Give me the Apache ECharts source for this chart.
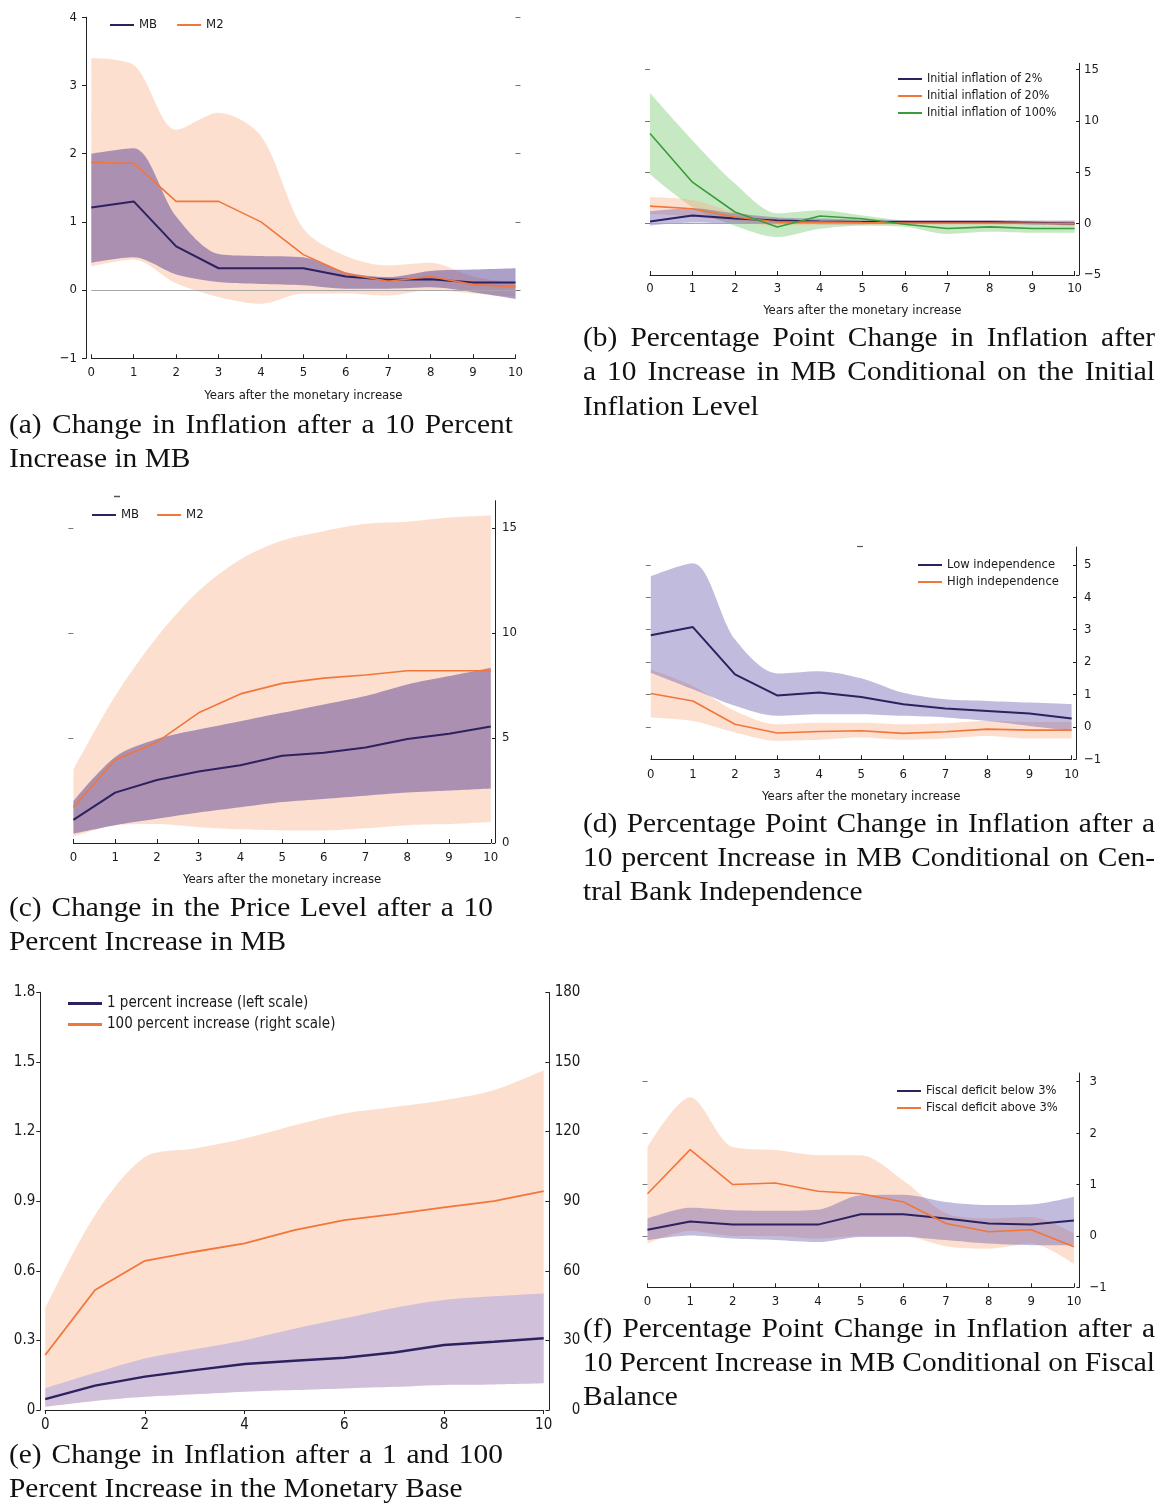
<!DOCTYPE html>
<html><head><meta charset="utf-8">
<script src="https://cdn.jsdelivr.net/npm/echarts@6/dist/echarts.min.js"></script>
<style>html,body{margin:0;padding:0;background:#fff}#c{width:1164px;height:1505px}</style>
</head><body><div id="c"></div>
<script>
// ---------- data ----------
const years = ['0','1','2','3','4','5','6','7','8','9','10'];

// (a) change in inflation after a 10% increase
const aMB   = [1.21, 1.30, 0.64, 0.32, 0.32, 0.32, 0.20, 0.15, 0.16, 0.11, 0.11];
const aMBLo = [0.40, 0.48, 0.23, 0.12, 0.09, 0.07, 0.02, 0.02, 0.04, -0.03, -0.13];
const aMBHi = [2.00, 2.08, 1.08, 0.53, 0.50, 0.48, 0.26, 0.19, 0.28, 0.30, 0.32];
const aM2   = [1.87, 1.86, 1.30, 1.30, 1.00, 0.52, 0.24, 0.13, 0.20, 0.08, 0.05];
const aM2Lo = [0.35, 0.45, 0.10, -0.10, -0.20, -0.05, -0.05, -0.08, 0.00, -0.05, -0.10];
const aM2Hi = [3.40, 3.30, 2.35, 2.60, 2.26, 0.90, 0.50, 0.36, 0.40, 0.20, 0.10];
const aTicks = [-1, 0, 1, 2, 3, 4];

// (b) conditional on initial inflation
const b2   = [0.20, 0.80, 0.50, 0.30, 0.20, 0.15, 0.15, 0.15, 0.15, 0.08, 0.00];
const b2Lo = [-0.20, 0.10, 0.00, 0.00, -0.05, -0.05, 0.00, 0.00, 0.00, -0.10, -0.15];
const b2Hi = [1.20, 1.50, 1.00, 0.60, 0.50, 0.40, 0.35, 0.35, 0.35, 0.30, 0.30];
const b20   = [1.70, 1.45, 0.65, 0.15, 0.15, 0.10, 0.06, 0.06, 0.06, 0.03, 0.00];
const b20Lo = [0.90, 0.70, 0.20, -0.20, -0.10, -0.10, -0.10, -0.10, -0.10, -0.10, -0.20];
const b20Hi = [2.60, 2.30, 1.10, 0.50, 0.40, 0.30, 0.30, 0.30, 0.30, 0.25, 0.25];
const b100   = [8.77, 4.03, 1.13, -0.32, 0.74, 0.48, -0.06, -0.48, -0.32, -0.48, -0.48];
const b100Lo = [4.80, 1.60, -0.20, -1.30, -0.50, -0.20, -0.30, -1.00, -0.80, -0.90, -0.90];
const b100Hi = [12.70, 8.10, 3.90, 1.00, 1.30, 0.80, 0.30, 0.05, 0.15, 0.10, 0.00];
const bTicks = [-5, 0, 5, 10, 15];
const bTop = 15.6;

// (c) change in the price level
const cMB   = [1.10, 2.40, 3.00, 3.40, 3.70, 4.15, 4.30, 4.55, 4.95, 5.20, 5.55];
const cMBLo = [0.45, 0.85, 1.15, 1.45, 1.70, 1.95, 2.10, 2.25, 2.40, 2.50, 2.60];
const cMBHi = [2.00, 4.10, 4.95, 5.40, 5.80, 6.20, 6.60, 7.00, 7.55, 7.95, 8.35];
const cM2   = [1.70, 3.95, 4.80, 6.20, 7.10, 7.60, 7.85, 8.00, 8.20, 8.20, 8.20];
const cM2Lo = [0.30, 0.85, 0.90, 0.75, 0.65, 0.60, 0.60, 0.70, 0.85, 0.90, 1.00];
const cM2Hi = [3.50, 7.00, 9.80, 12.00, 13.50, 14.40, 14.85, 15.20, 15.30, 15.50, 15.60];
const cTicks = [0, 5, 10, 15];
const cTop = 16.3;

// (d) central bank independence
const dLow   = [2.83, 3.08, 1.62, 0.97, 1.06, 0.92, 0.70, 0.57, 0.49, 0.41, 0.26];
const dLowLo = [1.67, 1.16, 0.65, 0.34, 0.39, 0.39, 0.34, 0.29, 0.18, 0.03, -0.12];
const dLowHi = [4.65, 5.05, 2.70, 1.65, 1.72, 1.50, 1.05, 0.85, 0.80, 0.75, 0.70];
const dHigh   = [1.03, 0.80, 0.08, -0.19, -0.14, -0.12, -0.20, -0.15, -0.07, -0.10, -0.10];
const dHighLo = [0.29, 0.18, -0.17, -0.43, -0.40, -0.33, -0.40, -0.36, -0.28, -0.36, -0.36];
const dHighHi = [1.77, 1.26, 0.49, 0.08, 0.13, 0.13, 0.08, 0.11, 0.18, 0.15, 0.15];
const dTicks = [-1, 0, 1, 2, 3, 4, 5];
const dTop = 5.55;

// (e) 1 and 100 percent increase
const e1   = [0.047, 0.105, 0.144, 0.172, 0.198, 0.212, 0.225, 0.248, 0.280, 0.294, 0.309];
const e1Lo = [0.014, 0.039, 0.057, 0.068, 0.079, 0.086, 0.093, 0.100, 0.108, 0.110, 0.115];
const e1Hi = [0.093, 0.160, 0.222, 0.262, 0.301, 0.350, 0.395, 0.440, 0.474, 0.490, 0.502];
const e100   = [23.7, 51.7, 64.3, 68.2, 71.8, 77.5, 81.8, 84.4, 87.3, 90.0, 94.3];
const e100Lo = [1.4, 3.9, 5.7, 6.8, 7.9, 8.6, 9.3, 10.0, 10.8, 11.0, 11.5];
const e100Hi = [43.8, 84.0, 109.0, 112.7, 117.0, 122.7, 127.8, 130.6, 133.5, 137.8, 146.4];
const eLeftTicks = [0, 0.3, 0.6, 0.9, 1.2, 1.5, 1.8];
const eRightTicks = [0, 30, 60, 90, 120, 150, 180];

// (f) fiscal balance
const fBelow   = [0.12, 0.28, 0.22, 0.22, 0.22, 0.42, 0.42, 0.34, 0.24, 0.22, 0.30];
const fBelowLo = [-0.08, 0.01, -0.05, -0.08, -0.12, -0.02, -0.02, -0.08, -0.15, -0.18, -0.18];
const fBelowHi = [0.34, 0.55, 0.50, 0.49, 0.51, 0.79, 0.80, 0.66, 0.60, 0.61, 0.76];
const fAbove   = [0.82, 1.68, 1.00, 1.03, 0.87, 0.82, 0.66, 0.24, 0.08, 0.12, -0.21];
const fAboveLo = [-0.15, 0.10, 0.00, 0.00, -0.05, 0.00, 0.00, -0.20, -0.25, -0.15, -0.55];
const fAboveHi = [1.73, 2.70, 1.73, 1.67, 1.57, 1.57, 1.08, 0.44, 0.34, 0.37, 0.05];
const fTicks = [-1, 0, 1, 2, 3];
const fTop = 3.17;

const xName = 'Years after the monetary increase';

// ---------- styles ----------
const SANS = "'DejaVu Sans Condensed','Liberation Sans Narrow','Arial Narrow',sans-serif";
const SERIF = "'Liberation Serif','Times New Roman',serif";
const TXT = '#1a1a1a', AXC = '#222';
const NAVY = '#2d2160', ORANGE = '#f2763a', GREEN = '#3a9c3a';
const PEACH = 'rgba(247,175,135,0.40)';
const LAV = 'rgba(95,70,150,0.52)';
const LAV_L = 'rgba(100,85,170,0.40)';
const LAV_E = 'rgba(120,130,240,0.33)';
const GREENB = 'rgba(120,200,110,0.42)';
const minus = v => String(v).replace('-', '\u2212');
const FS = 13;

function xAx(gi, o) {
  o = o || {};
  return {
    type: 'category', gridIndex: gi, data: years, boundaryGap: false,
    axisLine: {show: true, onZero: false, lineStyle: {color: AXC, width: 1}},
    axisTick: {show: true, inside: o.tickInside !== false, length: 4, interval: o.every || 0, lineStyle: {color: AXC}},
    axisLabel: {interval: o.every || 0, margin: o.margin || 8, fontFamily: SANS, fontSize: o.fs || FS, color: TXT},
    name: o.name || '', nameLocation: 'middle', nameGap: o.nameGap || 30,
    nameTextStyle: {fontFamily: SANS, fontSize: FS, color: TXT},
    splitLine: {show: false}
  };
}
function yAx(gi, ticks, top, pos, offset, o) {
  return {
    type: 'value', gridIndex: gi, position: pos, offset: offset,
    min: ticks[0], max: top,
    splitLine: {show: false},
    axisLine: {show: true, onZero: false, lineStyle: {color: AXC, width: 1}},
    axisTick: {show: true, inside: !!o.tickInside, length: o.tickLen || 3, lineStyle: {color: AXC}, customValues: ticks},
    axisLabel: {show: true, customValues: ticks, margin: o.margin, align: o.align, fontFamily: SANS, fontSize: o.fs || FS, color: TXT, formatter: minus}
  };
}
function decoAx(gi, ticks, lo, top, pos) {
  return {
    type: 'value', gridIndex: gi, position: pos, offset: 0, min: lo, max: top,
    splitLine: {show: false}, axisLine: {show: false}, axisLabel: {show: false},
    axisTick: {show: true, inside: false, length: 5, lineStyle: {color: '#777'}, customValues: ticks}
  };
}
function line(name, gi, yi, data, color, w, extra) {
  return Object.assign({
    type: 'line', name: name, xAxisIndex: gi, yAxisIndex: yi, data: data, color: color,
    symbol: 'none', lineStyle: {color: color, width: w}, z: 5, silent: true, emphasis: {disabled: true}
  }, extra || {});
}
function band(id, gi, yi, lo, hi, fill) {
  const diff = hi.map((h, i) => +(h - lo[i]).toFixed(5));
  const common = {type: 'line', xAxisIndex: gi, yAxisIndex: yi, stack: id, stackStrategy: 'all',
    symbol: 'none', silent: true, emphasis: {disabled: true}, smooth: 0.3, z: 2};
  return [
    Object.assign({}, common, {name: id + ' lo', data: lo, lineStyle: {width: 0, opacity: 0}}),
    Object.assign({}, common, {name: id + ' hi', data: diff, lineStyle: {width: 0, opacity: 0},
      areaStyle: {color: fill, opacity: 1}})
  ];
}
const zeroLine = {silent: true, symbol: ['none', 'none'], label: {show: false}, animation: false,
  lineStyle: {color: '#a8a8a8', width: 1, type: 'solid'}, data: [{yAxis: 0}]};

function legend(names, left, top, o) {
  return {
    data: names, left: left, top: top, orient: o.orient || 'vertical', icon: 'rect',
    itemWidth: o.w || 24, itemHeight: o.h || 2, itemGap: o.gap || 4, selectedMode: false, padding: 0,
    textStyle: {fontFamily: SANS, fontSize: o.fs || 12.4, lineHeight: o.lh || 13, color: TXT}
  };
}

// ---------- captions (graphic text, justified lines) ----------
const CAP_FS = 27, CAP_SX = 1.09;
const captions = [
  ['(a) Change in Inflation after a 10 Percent', 9, 426, 513],
  ['Increase in MB', 9, 460, 0],
  ['(b) Percentage Point Change in Inflation after', 583, 339, 1155],
  ['a 10 Increase in MB Conditional on the Initial', 583, 373, 1155],
  ['Inflation Level', 583, 408, 0],
  ['(c) Change in the Price Level after a 10', 9, 909, 493],
  ['Percent Increase in MB', 9, 943, 0],
  ['(d) Percentage Point Change in Inflation after a', 583, 825, 1155],
  ['10 percent Increase in MB Conditional on Cen-', 583, 859, 1155],
  ['tral Bank Independence', 583, 893, 0],
  ['(e) Change in Inflation after a 1 and 100', 9, 1456, 503],
  ['Percent Increase in the Monetary Base', 9, 1490, 0],
  ['(f) Percentage Point Change in Inflation after a', 583, 1330, 1155],
  ['10 Percent Increase in MB Conditional on Fiscal', 583, 1364, 1155],
  ['Balance', 583, 1398, 0]
];
const meas = document.createElement('canvas').getContext('2d');
meas.font = CAP_FS + 'px ' + SERIF;
const graphics = [];
captions.forEach(([t, x0, yc, x1]) => {
  const st = {fill: '#111', fontSize: CAP_FS, fontFamily: SERIF, verticalAlign: 'middle', align: 'left'};
  if (!x1) {
    graphics.push({type: 'text', x: x0, y: yc, scaleX: CAP_SX, silent: true, style: Object.assign({text: t}, st)});
    return;
  }
  const words = t.split(' ');
  const ws = words.map(w => meas.measureText(w).width * CAP_SX);
  const gap = (x1 - x0 - ws.reduce((a, b) => a + b, 0)) / (words.length - 1);
  let x = x0;
  words.forEach((w, i) => {
    graphics.push({type: 'text', x: x, y: yc, scaleX: CAP_SX, silent: true, style: Object.assign({text: w}, st)});
    x += ws[i] + gap;
  });
});
// small stray tick marks present in the original figure
graphics.push({type: 'line', silent: true, shape: {x1: 114, y1: 496.5, x2: 120, y2: 496.5}, style: {stroke: '#555', lineWidth: 1.5}});
graphics.push({type: 'line', silent: true, shape: {x1: 857, y1: 546.5, x2: 863, y2: 546.5}, style: {stroke: '#555', lineWidth: 1.2}});

// ---------- option ----------
const grids = [
  {left: 91.3, top: 17.2, width: 424.2, height: 341.1},
  {left: 650, top: 63.3, width: 424.6, height: 211.7},
  {left: 73.4, top: 500.7, width: 417.4, height: 342.3},
  {left: 650.8, top: 547, width: 420.8, height: 212.3},
  {left: 45.2, top: 992.3, width: 498.5, height: 417.7},
  {left: 647.5, top: 1073, width: 426.4, height: 214.3}
].map(g => Object.assign(g, {containLabel: false, outerBoundsMode: 'none'}));

const option = {
  animation: false,
  backgroundColor: '#fff',
  grid: grids,
  xAxis: [
    xAx(0, {name: xName, nameGap: 31, margin: 8}),
    xAx(1, {name: xName, nameGap: 29, margin: 7}),
    xAx(2, {name: xName, nameGap: 30, margin: 8}),
    xAx(3, {name: xName, nameGap: 31, margin: 9}),
    xAx(4, {every: 1, fs: 15, margin: 8, tickInside: false}),
    xAx(5, {margin: 8})
  ],
  yAxis: [
    yAx(0, aTicks, 4, 'left', 5.3, {margin: 9, tickLen: 4}),              // 0
    decoAx(0, [0, 1, 2, 3, 4], -1, 4, 'right'),                            // 1
    yAx(1, bTicks, bTop, 'right', 4.4, {margin: 5, tickInside: true}),     // 2
    decoAx(1, [0, 5, 10, 15], -5, bTop, 'left'),                           // 3
    yAx(2, cTicks, cTop, 'right', 4.2, {margin: 7, tickInside: true}),     // 4
    decoAx(2, [5, 10, 15], 0, cTop, 'left'),                               // 5
    yAx(3, dTicks, dTop, 'right', 4.4, {margin: 8, tickInside: true}),     // 6
    decoAx(3, [0, 1, 2, 3, 4, 5], -1, dTop, 'left'),                       // 7
    yAx(4, eLeftTicks, 1.8, 'left', 4.9, {margin: 5, tickLen: 4, fs: 15}), // 8
    yAx(4, eRightTicks, 180, 'right', 5.7, {margin: 31, align: 'right', tickInside: true, tickLen: 4, fs: 15}), // 9
    yAx(5, fTicks, fTop, 'right', 5.5, {margin: 10, tickInside: true}),    // 10
    decoAx(5, [0, 1, 2, 3], -1, fTop, 'left')                              // 11
  ],
  legend: [
    legend(['MB', 'M2'], 110, 18.5, {orient: 'horizontal', gap: 20, fs: 13}),
    legend(['Initial inflation of 2%', 'Initial inflation of 20%', 'Initial inflation of 100%'], 898, 72.5, {}),
    legend(['MB', 'M2'], 92, 508.5, {orient: 'horizontal', gap: 18, fs: 13}),
    legend(['Low independence', 'High independence'], 918, 558.5, {fs: 12.8}),
    legend(['1 percent increase (left scale)', '100 percent increase (right scale)'], 68, 995, {w: 34, h: 3, fs: 15, lh: 17, gap: 4}),
    legend(['Fiscal deficit below 3%', 'Fiscal deficit above 3%'], 897, 1084.5, {fs: 12.8})
  ],
  graphic: graphics,
  series: [
    // (a)
    ...band('aM2band', 0, 0, aM2Lo, aM2Hi, PEACH),
    ...band('aMBband', 0, 0, aMBLo, aMBHi, LAV),
    line('MB', 0, 0, aMB, NAVY, 2, {markLine: zeroLine}),
    line('M2', 0, 0, aM2, ORANGE, 1.6),
    // (b)
    ...band('b100band', 1, 2, b100Lo, b100Hi, GREENB),
    ...band('b20band', 1, 2, b20Lo, b20Hi, PEACH),
    ...band('b2band', 1, 2, b2Lo, b2Hi, LAV_L),
    line('Initial inflation of 2%', 1, 2, b2, NAVY, 2, {markLine: zeroLine}),
    line('Initial inflation of 20%', 1, 2, b20, ORANGE, 1.6),
    line('Initial inflation of 100%', 1, 2, b100, GREEN, 1.6),
    // (c)
    ...band('cM2band', 2, 4, cM2Lo, cM2Hi, PEACH),
    ...band('cMBband', 2, 4, cMBLo, cMBHi, LAV),
    line('MB', 2, 4, cMB, NAVY, 2),
    line('M2', 2, 4, cM2, ORANGE, 1.6),
    // (d)
    ...band('dHighband', 3, 6, dHighLo, dHighHi, PEACH),
    ...band('dLowband', 3, 6, dLowLo, dLowHi, LAV_L),
    line('Low independence', 3, 6, dLow, NAVY, 2),
    line('High independence', 3, 6, dHigh, ORANGE, 1.6),
    // (e)
    ...band('e100band', 4, 9, e100Lo, e100Hi, PEACH),
    ...band('e1band', 4, 8, e1Lo, e1Hi, LAV_E),
    line('1 percent increase (left scale)', 4, 8, e1, NAVY, 2.4),
    line('100 percent increase (right scale)', 4, 9, e100, ORANGE, 1.8),
    // (f)
    ...band('fAboveband', 5, 10, fAboveLo, fAboveHi, PEACH),
    ...band('fBelowband', 5, 10, fBelowLo, fBelowHi, LAV_L),
    line('Fiscal deficit below 3%', 5, 10, fBelow, NAVY, 2),
    line('Fiscal deficit above 3%', 5, 10, fAbove, ORANGE, 1.6)
  ]
};

const chart = echarts.init(document.getElementById('c'), null, {renderer: 'canvas'});
chart.setOption(option);
</script>
</body></html>
